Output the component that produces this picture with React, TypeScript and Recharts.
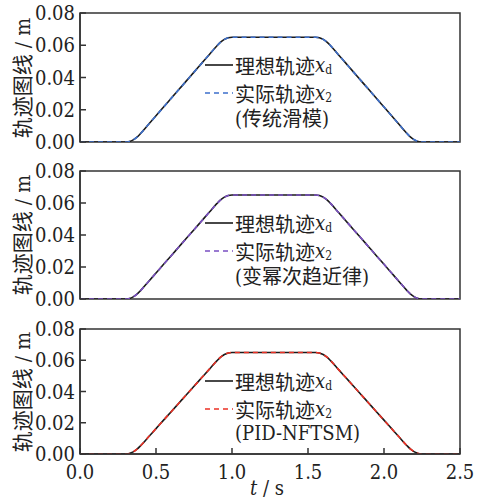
import { LineChart, Line, XAxis, YAxis, ReferenceArea } from "recharts"

// time axis (s)
const time = [
  0, 0.1, 0.2, 0.28, 0.3, 0.325, 0.35, 0.375, 0.4, 0.45, 0.5, 0.55, 0.6, 0.65, 0.7, 0.75,
  0.8, 0.85, 0.9, 0.925, 0.95, 0.975, 1.0, 1.1, 1.2, 1.3, 1.4, 1.5, 1.53, 1.55, 1.575, 1.6,
  1.625, 1.65, 1.7, 1.75, 1.8, 1.85, 1.9, 1.95, 2.0, 2.05, 2.1, 2.15, 2.175, 2.2, 2.225, 2.25,
  2.3, 2.4, 2.5,
]

// desired trajectory x_d (m)
const xd = [
  0, 0, 0, 0, 0, 0.00034, 0.00135, 0.00305, 0.00542, 0.01083, 0.01625, 0.02167, 0.02708,
  0.0325, 0.03792, 0.04333, 0.04875, 0.05417, 0.05958, 0.06195, 0.06365, 0.06466, 0.065,
  0.065, 0.065, 0.065, 0.065, 0.065, 0.065, 0.065, 0.06466, 0.06365, 0.06195, 0.05958,
  0.05417, 0.04875, 0.04333, 0.03792, 0.0325, 0.02708, 0.02167, 0.01625, 0.01083, 0.00542,
  0.00305, 0.00135, 0.00034, 0, 0, 0, 0,
]

// actual trajectory x_2, traditional sliding mode
const x2Smc = [
  0, 0, 0, 0, 0, 0.00033, 0.00133, 0.00303, 0.0054, 0.01082, 0.01624, 0.02166, 0.02707,
  0.03249, 0.03791, 0.04332, 0.04874, 0.05416, 0.05957, 0.06194, 0.06364, 0.06465, 0.065,
  0.065, 0.065, 0.065, 0.065, 0.065, 0.065, 0.065, 0.06467, 0.06366, 0.06196, 0.05959,
  0.05418, 0.04876, 0.04334, 0.03793, 0.03251, 0.02709, 0.02168, 0.01626, 0.01084, 0.00543,
  0.00306, 0.00136, 0.00035, 0, 0, 0, 0,
]

// actual trajectory x_2, variable power reaching law
const x2Vpr = [
  0, 0, 0, 0, 0, 0.00034, 0.00134, 0.00304, 0.00541, 0.01083, 0.01625, 0.02167, 0.02708,
  0.0325, 0.03792, 0.04333, 0.04875, 0.05417, 0.05958, 0.06195, 0.06365, 0.06466, 0.065,
  0.065, 0.065, 0.065, 0.065, 0.065, 0.065, 0.065, 0.06466, 0.06365, 0.06195, 0.05958,
  0.05417, 0.04875, 0.04333, 0.03792, 0.0325, 0.02708, 0.02167, 0.01625, 0.01083, 0.00542,
  0.00305, 0.00135, 0.00034, 0, 0, 0, 0,
]

// actual trajectory x_2, PID-NFTSM
const x2Pid = [
  0, 0, 0, 0, 0, 0.00034, 0.00135, 0.00305, 0.00542, 0.01083, 0.01625, 0.02167, 0.02708,
  0.0325, 0.03792, 0.04333, 0.04875, 0.05417, 0.05958, 0.06195, 0.06365, 0.06466, 0.065,
  0.065, 0.065, 0.065, 0.065, 0.065, 0.065, 0.065, 0.06466, 0.06365, 0.06195, 0.05958,
  0.05417, 0.04875, 0.04333, 0.03792, 0.0325, 0.02708, 0.02167, 0.01625, 0.01083, 0.00542,
  0.00305, 0.00135, 0.00034, 0, 0, 0, 0,
]

const xTicks = [0, 0.5, 1.0, 1.5, 2.0, 2.5]
const yTicks = [0, 0.02, 0.04, 0.06, 0.08]

const font = "'DejaVu Serif Condensed', 'DejaVu Serif', 'Noto Sans CJK SC', serif"
const axisColor = "#333"
const PAD = 14

type PanelProps = {
  top: number
  plotH: number
  actual: number[]
  color: string
  method: string
  bottom?: boolean
}

const Sub = ({ c }: { c: string }) => (
  <span style={{ fontSize: 12, position: "relative", top: 5 }}>{c}</span>
)

const Panel = ({ top, plotH, actual, color, method, bottom }: PanelProps) => {
  const data = time.map((t, i) => ({ t, xd: xd[i], x2: actual[i] }))
  const axisH = bottom ? 40 : 0
  const rowText = {
    position: "absolute" as const,
    left: 205,
    height: 24,
    display: "flex",
    alignItems: "center",
    whiteSpace: "nowrap" as const,
  }

  return (
    <>
      <div style={{ position: "absolute", left: 0, top: top - PAD }}>
        <LineChart
          width={478}
          height={PAD + plotH + axisH + PAD}
          data={data}
          margin={{ top: PAD, right: 18, left: 0, bottom: PAD }}
        >
          <XAxis
            dataKey="t"
            type="number"
            domain={[0, 2.5]}
            ticks={xTicks}
            interval={0}
            tickSize={-6}
            tickMargin={17}
            height={axisH}
            stroke={axisColor}
            strokeWidth={1.5}
            tick={{ fill: "#222", fontSize: 20, fontFamily: font }}
            tickFormatter={(v: number) => (bottom ? v.toFixed(1) : "")}
          />
          <YAxis
            type="number"
            domain={[0, 0.08]}
            ticks={yTicks}
            interval={0}
            width={80}
            tickSize={-6}
            tickMargin={11}
            stroke={axisColor}
            strokeWidth={1.5}
            tick={{ fill: "#222", fontSize: 20, fontFamily: font }}
            tickFormatter={(v: number) => v.toFixed(2)}
            allowDataOverflow
          />
          <ReferenceArea x1={0} x2={2.5} y1={0} y2={0.08} fill="none" stroke={axisColor} strokeWidth={1.5} />
          <Line type="monotone" dataKey="xd" stroke="#1a1a1a" strokeWidth={1.6} dot={false} isAnimationActive={false} />
          <Line
            type="monotone"
            dataKey="x2"
            stroke={color}
            strokeWidth={1.6}
            strokeDasharray="5 4"
            dot={false}
            isAnimationActive={false}
          />
        </LineChart>
      </div>

      <div
        style={{
          position: "absolute",
          left: 21,
          top: top + plotH / 2,
          transform: "translate(-50%, -50%) rotate(-90deg)",
          whiteSpace: "nowrap",
          fontSize: 21,
          color: "#222",
        }}
      >
        轨迹图线 / m
      </div>

      <div style={{ ...rowText, top: top + 40 }}>
        <svg width={28} height={4} style={{ marginRight: 2 }}>
          <line x1={0} y1={2} x2={28} y2={2} stroke="#1a1a1a" strokeWidth={1.6} />
        </svg>
        理想轨迹<i>x</i>
        <Sub c="d" />
      </div>
      <div style={{ ...rowText, top: top + 68 }}>
        <svg width={28} height={4} style={{ marginRight: 2 }}>
          <line x1={0} y1={2} x2={28} y2={2} stroke={color} strokeWidth={1.6} strokeDasharray="5 4" />
        </svg>
        实际轨迹<i>x</i>
        <Sub c="2" />
      </div>
      <div style={{ ...rowText, left: 235, top: top + 92 }}>{method}</div>
    </>
  )
}

export default function App() {
  return (
    <div
      style={{
        position: "absolute",
        left: 0,
        top: 0,
        width: 478,
        height: 501,
        background: "#fff",
        fontFamily: font,
        color: "#222",
        fontSize: 20,
      }}
    >
      <Panel top={13} plotH={129} actual={x2Smc} color="#3d6fcb" method="(传统滑模)" />
      <Panel top={171} plotH={128} actual={x2Vpr} color="#7a4fc2" method="(变幂次趋近律)" />
      <Panel top={329} plotH={125} actual={x2Pid} color="#ec3024" method="(PID-NFTSM)" bottom />
      <div
        style={{
          position: "absolute",
          left: 267,
          top: 488,
          transform: "translate(-50%, -50%)",
          whiteSpace: "nowrap",
          fontSize: 20,
          lineHeight: 1,
        }}
      >
        <i>t</i> / s
      </div>
    </div>
  )
}
